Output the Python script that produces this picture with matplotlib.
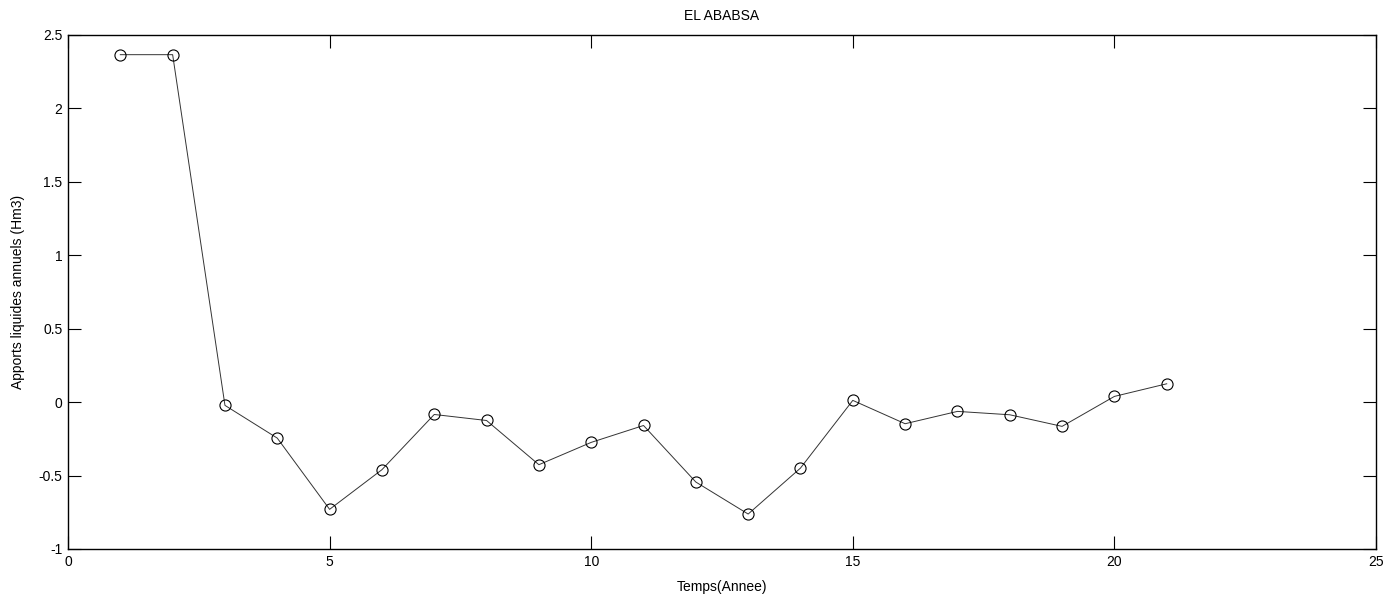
import matplotlib
matplotlib.use('Agg')
import matplotlib.pyplot as plt

# Apports liquides annuels - barrage El Ababsa
annees = list(range(1, 22))
apports = [2.366, 2.366, -0.022, -0.245, -0.730, -0.460, -0.084, -0.125, -0.426,
           -0.274, -0.159, -0.544, -0.762, -0.449, 0.012, -0.147, -0.063, -0.086,
           -0.165, 0.039, 0.125]

plt.rcParams['font.family'] = ['Liberation Sans', 'DejaVu Sans']
plt.rcParams['font.size'] = 10

fig = plt.figure(figsize=(14, 6.01), dpi=100)
ax = fig.add_axes([68 / 1400, 52 / 601, 1308 / 1400, 514 / 601])

ax.plot(annees, apports, color='#333333', linewidth=0.7, marker='o',
        markersize=8, markerfacecolor='none', markeredgecolor='black',
        markeredgewidth=0.8)

ax.set_xlim(0, 25)
ax.set_ylim(-1, 2.5)
ax.set_xticks([0, 5, 10, 15, 20, 25])
ax.set_yticks([-1, -0.5, 0, 0.5, 1, 1.5, 2, 2.5])
ax.set_yticklabels(['-1', '-0.5', '0', '0.5', '1', '1.5', '2', '2.5'])
ax.tick_params(direction='in', length=9.5, width=0.8, top=True, right=True,
               labelsize=10, pad=4)
for s in ax.spines.values():
    s.set_linewidth(1.0)

ax.set_title('EL ABABSA', fontsize=10, pad=11)
ax.set_xlabel('Temps(Annee)', fontsize=10, labelpad=8)
ax.set_ylabel('Apports liquides annuels (Hm3)', fontsize=10, labelpad=10)

fig.savefig('out.png', dpi=100)
